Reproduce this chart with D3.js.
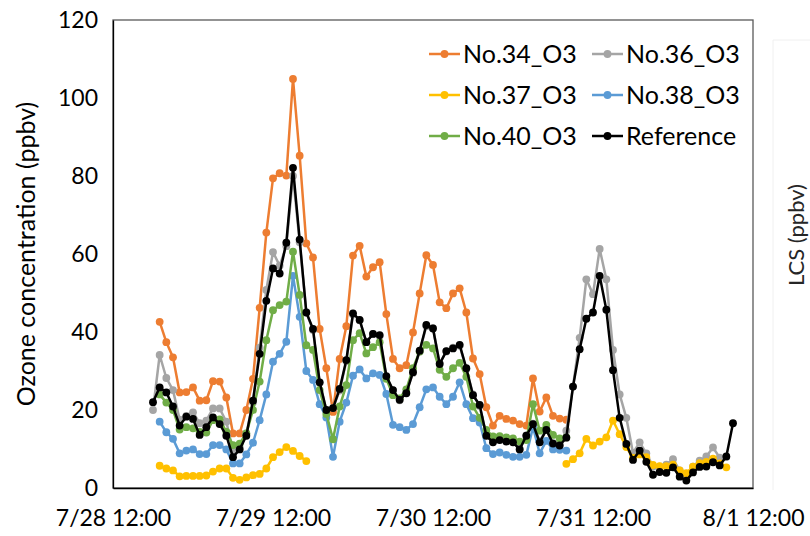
<!DOCTYPE html>
<html>
<head>
<meta charset="utf-8">
<script src="https://cdn.jsdelivr.net/npm/d3@7"></script>
<style>
  body { margin: 0; background: #fff; }
  svg { display: block; font-family: Lato, "Open Sans", sans-serif; }
</style>
</head>
<body>
<div id="chart"></div>
<script>
// hourly readings, 7/28 18:00 .. 8/1 09:00 (88 hours), null = no data
const startTime = "2023-07-28T18:00:00"
const xTickLabels = ["7/28 12:00", "7/29 12:00", "7/30 12:00", "7/31 12:00", "8/1 12:00"]
const yTicks = [0, 20, 40, 60, 80, 100, 120]

const no34 = [null,
  42.6, 37.4, 33.5, 24.5, 24.6, 25.8, 22.4, 22.5, 27.4, 27.3,
  23.2, 14.0, 14.0, 20.0, 28.0, 46.2, 65.5, 79.4, 80.7, 80.1,
  104.9, 85.2, 62.7, 59.1, 40.8, 30.7, 19.5, 33.1, 41.5, 59.6,
  62.1, 54.2, 56.6, 57.9, 44.6, 33.1, 30.7, 31.5, 39.9, 49.9,
  59.7, 57.2, 47.6, 46.1, 49.9, 51.2, 45.0, 33.2, 29.2, 20.7,
  16.0, 18.5, 17.7, 17.3, 16.4, 16.0, 28.1, 19.6, 23.2, 18.5,
  17.8, 17.5,
  null, null, null, null, null, null, null, null, null, null, null, null, null,
  null, null, null, null, null, null, null, null, null, null, null, null]

const no36 = [
  20.0, 34.1, 28.2, 25.1, 17.5, 18.5, 19.4, 16.6, 17.3, 20.4,
  20.4, 17.0, 9.5, 10.5, 14.0, 22.0, 36.0, 50.8, 60.5, 57.0,
  62.0, 80.0, 63.0, 45.0, 40.5, 27.0, 20.0, 20.5, 25.0, 32.5,
  44.5, 43.0, 37.5, 39.5, 39.0, 28.5, 25.0, 22.5, 24.5, 29.5,
  35.0, 41.5, 41.0, 32.0, 35.0, 36.0, 36.5, 30.5, 24.0, 21.0,
  13.5, 12.0, 12.5, 12.0, 12.0, 10.0, 13.5, 16.5, 12.0, 15.0,
  11.5, 11.0, 14.7, 26.0, 38.5, 53.5, 49.7, 61.3, 53.5, 35.4,
  24.0, 18.0, 9.0, 11.7, 8.9, 5.5, 5.5, 6.0, 7.4, 4.5,
  3.5, 5.5, 7.0, 8.1, 10.4, 7.8, 8.0, null]

const no37 = [null,
  5.7, 5.0, 4.5, 3.0, 3.1, 3.1, 3.1, 3.2, 4.2, 5.0,
  5.0, 2.6, 2.1, 2.7, 3.3, 3.6, 5.0, 7.9, 9.2, 10.5,
  9.5, 8.2, 6.9,
  null, null, null, null, null, null, null, null, null, null, null, null, null,
  null, null, null, null, null, null, null, null, null, null, null, null, null,
  null, null, null, null, null, null, null, null, null, null, null, null,
  6.2, 7.4, 8.9, 12.6, 10.9, 11.9, 13.0, 17.3, 13.8, 10.5,
  7.7, 8.6, 7.9, 5.9, 5.6, 5.6, 6.0, 4.5, 3.8, 5.5,
  6.4, 6.7, 7.5, 6.3, 5.3, null]

const no38 = [null,
  17.0, 14.3, 12.6, 8.9, 9.6, 9.9, 8.7, 8.7, 11.0, 11.0,
  9.9, 6.3, 6.3, 8.6, 11.6, 17.4, 24.0, 32.4, 34.4, 37.5,
  54.4, 43.9, 30.0, 27.7, 21.5, 18.1, 8.0, 17.0, 21.9, 28.8,
  30.4, 28.1, 29.4, 29.0, 24.1, 16.2, 15.6, 14.9, 16.4, 20.7,
  25.3, 25.8, 23.4, 21.5, 23.4, 27.1, 21.5, 17.9, 16.8, 10.2,
  8.7, 9.1, 8.5, 8.0, 8.0, 8.5, 15.6, 8.9, 12.1, 9.9,
  9.8, 9.6,
  null, null, null, null, null, null, null, null, null, null, null, null, null,
  null, null, null, null, null, null, null, null, null, null, null, null]

const no40 = [null,
  24.0, 21.9, 20.0, 15.0, 15.6, 15.3, 14.4, 14.2, 17.4, 17.6,
  14.4, 11.0, 11.4, 14.0, 20.0, 27.3, 37.9, 45.6, 46.9, 47.8,
  60.6, 49.5, 36.6, 35.4, 25.1, 19.0, 12.5, 20.9, 26.4, 37.9,
  39.7, 34.5, 36.1, 37.4, 28.0, 23.8, 23.0, 25.3, 30.7, 35.0,
  36.7, 35.8, 30.3, 28.5, 30.7, 32.1, 28.5, 20.9, 18.0, 14.9,
  13.2, 13.3, 13.0, 12.7, 11.9, 12.3, 21.5, 14.7, 16.2, 13.6,
  12.7, 13.0,
  null, null, null, null, null, null, null, null, null, null, null, null, null,
  null, null, null, null, null, null, null, null, null, null, null, null]

const reference = [
  22.0, 25.8, 24.5, 20.9, 16.0, 18.3, 17.7, 13.6, 15.6, 18.1,
  16.4, 13.4, 7.9, 9.9, 13.4, 22.4, 34.4, 48.0, 56.3, 55.0,
  62.9, 82.1, 63.7, 45.0, 40.8, 27.1, 20.0, 20.5, 25.4, 32.8,
  44.8, 43.1, 37.4, 39.5, 39.2, 28.7, 25.1, 22.6, 24.3, 29.7,
  35.2, 41.8, 40.9, 31.8, 35.1, 35.8, 36.7, 30.7, 23.8, 21.3,
  13.4, 11.7, 12.3, 11.9, 11.7, 9.9, 13.4, 16.4, 11.7, 14.9,
  11.4, 10.9, 12.9, 26.0, 35.6, 43.4, 45.0, 54.4, 45.7, 30.2,
  18.0, 11.3, 7.2, 9.6, 6.7, 3.4, 4.1, 3.9, 5.3, 2.9,
  1.9, 4.0, 5.4, 5.5, 6.6, 5.8, 8.1, 16.6]

const seriesNames = ["No.34_O3", "No.36_O3", "No.37_O3", "No.38_O3", "No.40_O3", "Reference"]
const seriesColors = ["#ED7D31", "#A5A5A5", "#FFC000", "#5B9BD5", "#70AD47", "#000000"]
const seriesValues = [no34, no36, no37, no38, no40, reference]

const width = 810, height = 536
const margin = { top: 20, left: 113, right: 57, bottom: 48 }

const parseTick = d3.timeParse("%Y %m/%d %H:%M")
const times = d3.timeHour.range(new Date(startTime), d3.timeHour.offset(new Date(startTime), no34.length))
const tickDates = xTickLabels.map(t => parseTick("2023 " + t))

const svg = d3.select("#chart").append("svg").attr("width", width).attr("height", height)

// faint outline of the (empty) secondary area on the right
svg.append("path").attr("d", "M773,490 V40 H810").attr("fill", "none").attr("stroke", "#f0f0f0")

const x = d3.scaleTime().domain([tickDates[0], tickDates[tickDates.length - 1]]).range([margin.left, width - margin.right])
const y = d3.scaleLinear().domain([0, 120]).range([height - margin.bottom, margin.top])

svg.append("rect")
  .attr("x", margin.left).attr("y", margin.top)
  .attr("width", width - margin.right - margin.left).attr("height", height - margin.bottom - margin.top)
  .attr("fill", "none").attr("stroke", "#595959").attr("stroke-width", 1.3)

const yAxis = svg.append("g").attr("transform", `translate(${margin.left},0)`)
  .call(d3.axisLeft(y).tickValues(yTicks).tickSize(0).tickPadding(15))
yAxis.select(".domain").attr("stroke", "#000").attr("stroke-width", 1.3)
yAxis.selectAll("text").attr("font-size", 23).attr("font-family", "Lato").attr("fill", "#000")

const xAxis = svg.append("g").attr("transform", `translate(0,${height - margin.bottom})`)
  .call(d3.axisBottom(x).tickValues(tickDates).tickSize(0).tickPadding(22).tickFormat((d, i) => xTickLabels[i]))
xAxis.select(".domain").attr("stroke", "#000").attr("stroke-width", 1.3)
xAxis.selectAll("text").attr("font-size", 23).attr("font-family", "Lato").attr("fill", "#000")

svg.append("text")
  .attr("transform", `translate(35,${(margin.top + height - margin.bottom) / 2}) rotate(-90)`)
  .attr("text-anchor", "middle").attr("font-size", 25).attr("fill", "#000")
  .text("Ozone concentration (ppbv)")

svg.append("text")
  .attr("transform", `translate(804,235) rotate(-90)`)
  .attr("text-anchor", "middle").attr("font-size", 22).attr("fill", "#262626")
  .text("LCS (ppbv)")

const line = d3.line()
  .defined(d => d.v != null)
  .x(d => x(d.t))
  .y(d => y(d.v))

seriesValues.forEach((vals, si) => {
  const pts = vals.map((v, i) => ({ t: times[i], v: v }))
  const g = svg.append("g")
  g.append("path").datum(pts)
    .attr("d", line)
    .attr("fill", "none")
    .attr("stroke", seriesColors[si])
    .attr("stroke-width", 2.5)
    .attr("stroke-linejoin", "round")
  g.selectAll("circle").data(pts.filter(d => d.v != null)).join("circle")
    .attr("cx", d => x(d.t)).attr("cy", d => y(d.v))
    .attr("r", 3.9).attr("fill", seriesColors[si])
})

// legend, 2 columns x 3 rows
const legend = svg.append("g")
seriesNames.forEach((name, i) => {
  const col = i % 2, row = Math.floor(i / 2)
  const lx = 429 + col * 163, ly = 54 + row * 41
  const item = legend.append("g").attr("transform", `translate(${lx},${ly})`)
  item.append("line").attr("x1", 0).attr("x2", 31).attr("y1", 0).attr("y2", 0)
    .attr("stroke", seriesColors[i]).attr("stroke-width", 2.5)
  item.append("circle").attr("cx", 15.5).attr("cy", 0).attr("r", 3.9).attr("fill", seriesColors[i])
  item.append("text").attr("x", 34).attr("y", 0).attr("dy", "0.35em")
    .attr("font-size", 25).attr("fill", "#000").text(name)
})
</script>
</body>
</html>
